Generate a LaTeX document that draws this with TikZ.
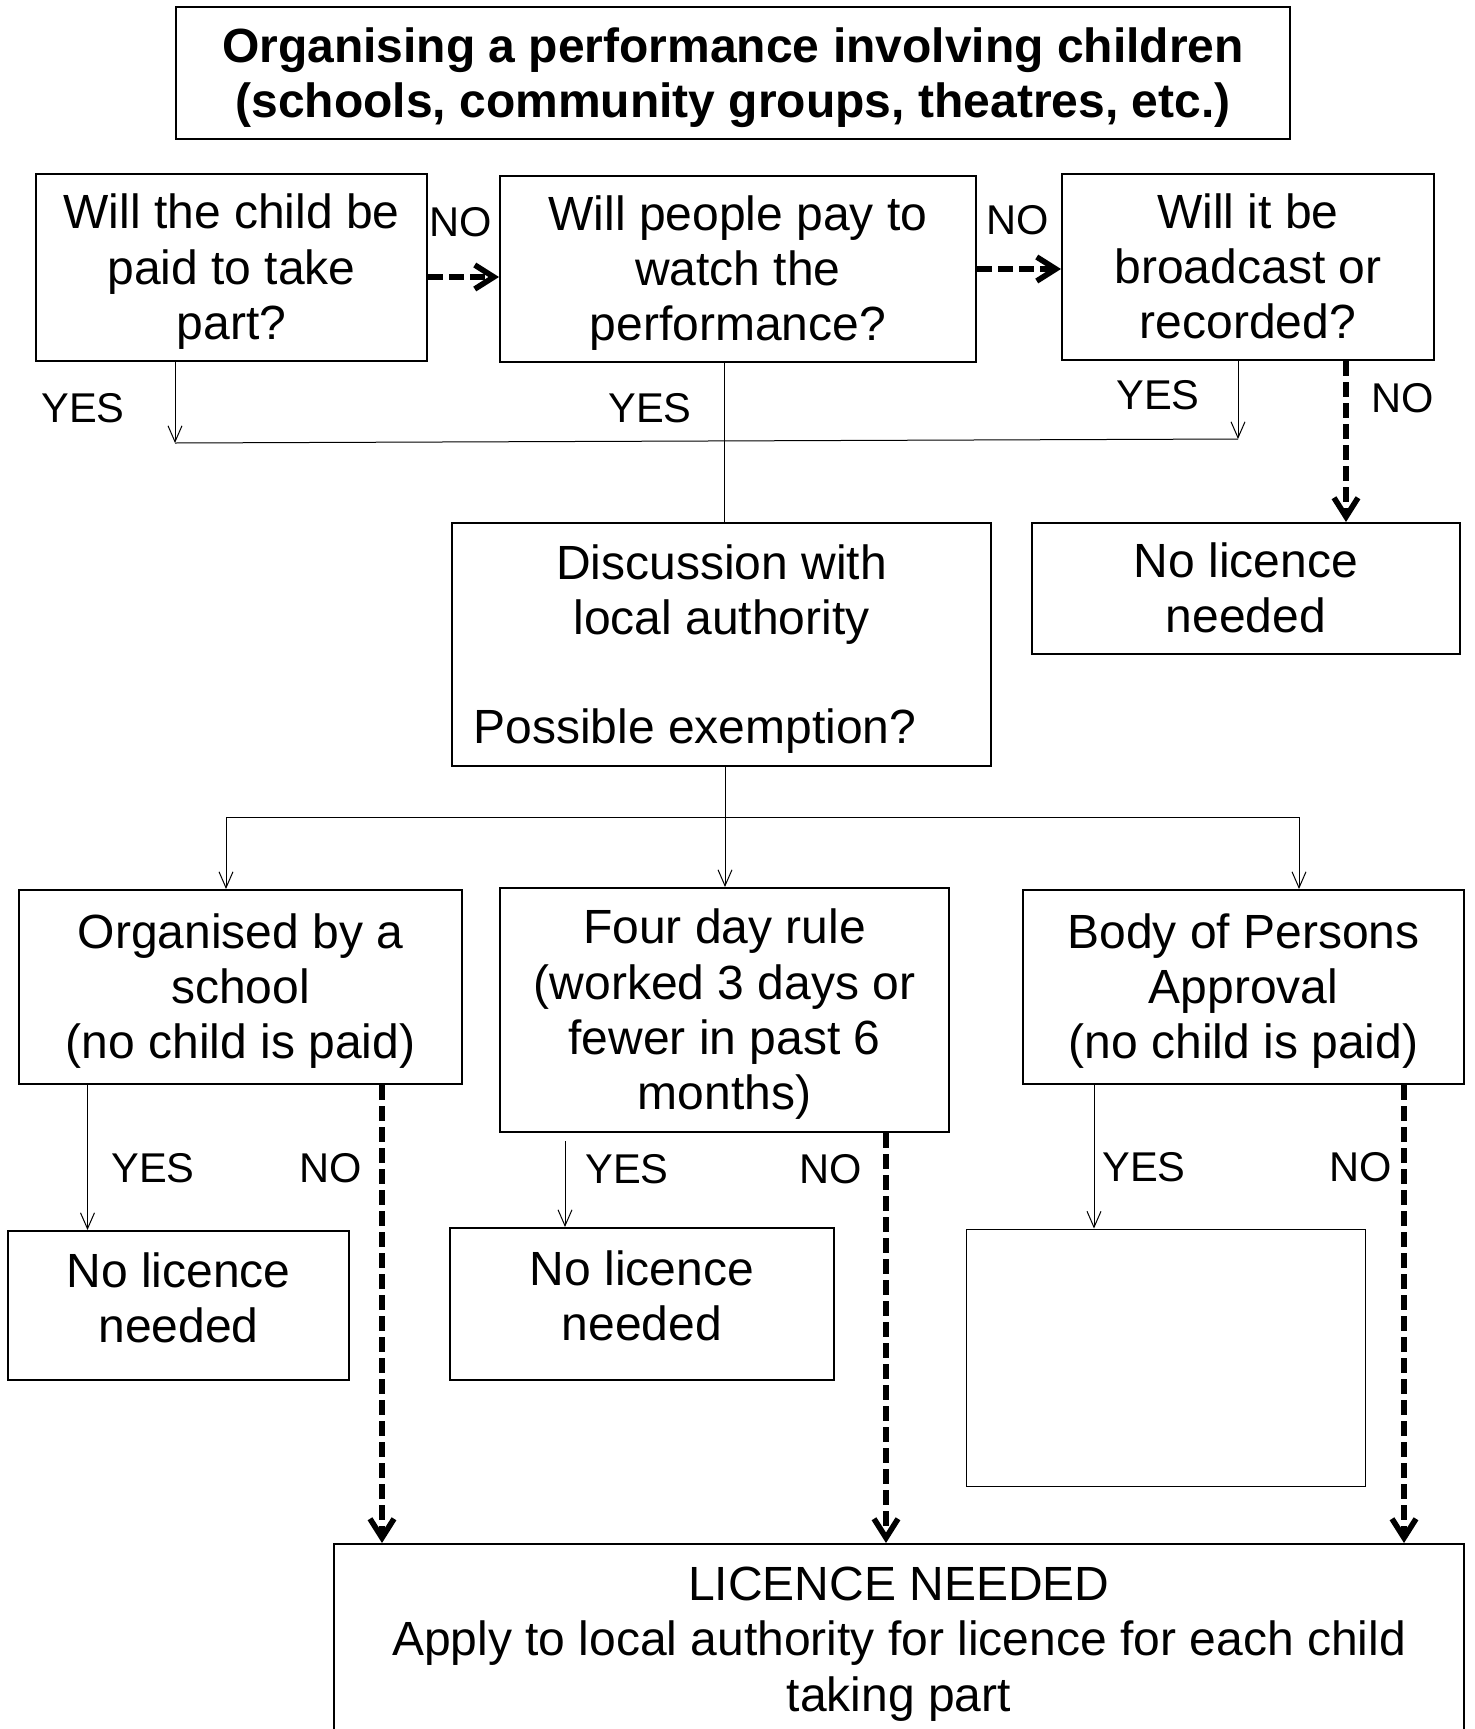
\documentclass[tikz,border=0pt]{standalone}
\usepackage{fontspec}
\setmainfont{Liberation Sans}
\usetikzlibrary{arrows.meta,calc}
\newcommand\mainfs{\fontsize{24pt}{27.6pt}\selectfont}
\newcommand\lblfs{\fontsize{20.8pt}{24pt}\selectfont}
\newcommand\myts{\rule{0pt}{0.905em}}
\newcommand\mybs{\rule[-0.212em]{0pt}{0.212em}}
\begin{document}
\begin{tikzpicture}[x=0.5pt,y=-0.5pt,
  sz/.style 2 args={minimum width=#1*0.5pt,minimum height=#2*0.5pt},
  box/.style={draw,line width=1pt,inner sep=0pt,align=center,font=\mainfs},
  txt/.style={inner sep=0pt,align=center,font=\mainfs},
  lbl/.style={inner sep=0pt,font=\lblfs},
  thinline/.style={line width=0.5pt},
  thinarrow/.style={line width=0.5pt,-{Straight Barb[length=8pt,width=7pt,line width=0.5pt]}},
  dasharrow/.style={line width=2.8pt,dash pattern=on 7.5pt off 3pt,-{Straight Barb[length=9.5pt,width=12pt,line width=2.8pt]}},
]
\path[use as bounding box,clip] (0,0) rectangle (1474,1729);
\fill[white] (0,0) rectangle (1474,1729);

% boxes
\node[box,sz={1114}{132},font=\mainfs\bfseries] (title) at (733,73) {\myts Organising a performance involving children\\(schools, community groups, theatres, etc.)\mybs};
\node[box,sz={391}{187}] (A) at (231.5,267.5) {\myts Will the child be\\paid to take\\part?\mybs};
\node[box,sz={476}{186}] (B) at (738,269) {\myts Will people pay to\\watch the\\performance?\mybs};
\node[box,sz={372}{186}] (C) at (1248,267) {\myts Will it be\\broadcast or\\recorded?\mybs};
\node[box,sz={539}{243}] (disc) at (721.5,644.5) {};
\node[txt] (disc1) at (721.5,594.5) {Discussion with\\local authority};
\node[txt,anchor=west] (disc2) at (473,731.5) {Possible exemption?};
\node[box,sz={428}{131}] (nl0) at (1246,588.5) {\myts No licence\\needed\mybs};
\node[box,sz={443}{194}] (org) at (240.5,987) {\myts Organised by a\\school\\(no child is paid)\mybs};
\node[box,sz={449}{244}] (four) at (724.5,1010) {\myts Four day rule\\(worked 3 days or\\fewer in past 6\\months)\mybs};
\node[box,sz={441}{194}] (body) at (1243.5,987) {\myts Body of Persons\\Approval\\(no child is paid)\mybs};
\node[box,sz={341}{149}] (nl1) at (178.5,1305.5) {};
\node[txt,yshift=3.75pt] (nl1t) at (nl1) {\myts No licence\\needed\mybs};
\node[box,sz={384}{152}] (nl2) at (642,1304) {};
\node[txt,yshift=4pt] (nl2t) at (nl2) {\myts No licence\\needed\mybs};
\node[draw,line width=0.5pt,inner sep=0pt,sz={399}{257}] (empty) at (1165.5,1357.5) {};
\node[box,sz={1130}{256}] (lic) at (899,1672) {};
\node[txt] (lictext) at (899,1644) {LICENCE NEEDED\\Apply to local authority for licence for each child\\taking part};

% helper coordinates
\coordinate (jl) at (175,443);
\coordinate (jr) at (1238,439);
\coordinate (bx) at (724.5,0);
\coordinate (cx) at (1346,0);
\coordinate (brl) at (226,817);
\coordinate (brm) at (725,817);
\coordinate (brr) at (1299,817);
\coordinate (x1) at (87.5,0);
\coordinate (x2) at (382,0);
\coordinate (x3) at (565,0);
\coordinate (x4) at (886,0);
\coordinate (x5) at (1094,0);
\coordinate (x6) at (1404,0);

% top row connectors
\draw[dasharrow] ($(A.east)+(0,9.5)$) -- ($(B.west)+(0,8)$);
\draw[dasharrow] (B.east) -- ($(C.west)+(0,2)$);
\draw[thinarrow] (A.south -| jl) -- (jl);
\draw[thinline] (jl) -- (jr);
\draw[thinarrow] (C.south -| jr) -- (jr);
\draw[thinline] (B.south -| bx) -- (disc.north -| bx);
\draw[dasharrow] (C.south -| cx) -- (nl0.north -| cx);

% branches
\draw[thinarrow] (disc.south -| brm) -- (four.north -| brm);
\draw[line width=0.5pt,{Straight Barb[length=8pt,width=7pt,line width=0.5pt]}-{Straight Barb[length=8pt,width=7pt,line width=0.5pt]}]
  (org.north -| brl) -- (brl) -- (brr) -- (body.north -| brr);

% lower connectors
\draw[thinarrow] (org.south -| x1) -- (nl1.north -| x1);
\draw[dasharrow] (org.south -| x2) -- (lic.north -| x2);
\draw[thinarrow] ($(four.south -| x3)+(0,8)$) -- (nl2.north -| x3);
\draw[dasharrow] (four.south -| x4) -- (lic.north -| x4);
\draw[thinarrow] (body.south -| x5) -- (empty.north -| x5);
\draw[dasharrow] (body.south -| x6) -- (lic.north -| x6);

% labels
\node[lbl] (lno1) at (461,222) {NO};
\node[lbl] (lno2) at (1018,220) {NO};
\node[lbl] (lyes1) at (83,408) {YES};
\node[lbl] (lyes2) at (650,408) {YES};
\node[lbl] (lyes3) at (1158,395) {YES};
\node[lbl] (lno3) at (1403,398) {NO};
\node[lbl] (lyes4) at (153,1168) {YES};
\node[lbl] (lno4) at (331,1168) {NO};
\node[lbl] (lyes5) at (627,1169) {YES};
\node[lbl] (lno5) at (831,1169) {NO};
\node[lbl] (lyes6) at (1144,1167) {YES};
\node[lbl] (lno6) at (1361,1167) {NO};
\end{tikzpicture}
\end{document}
